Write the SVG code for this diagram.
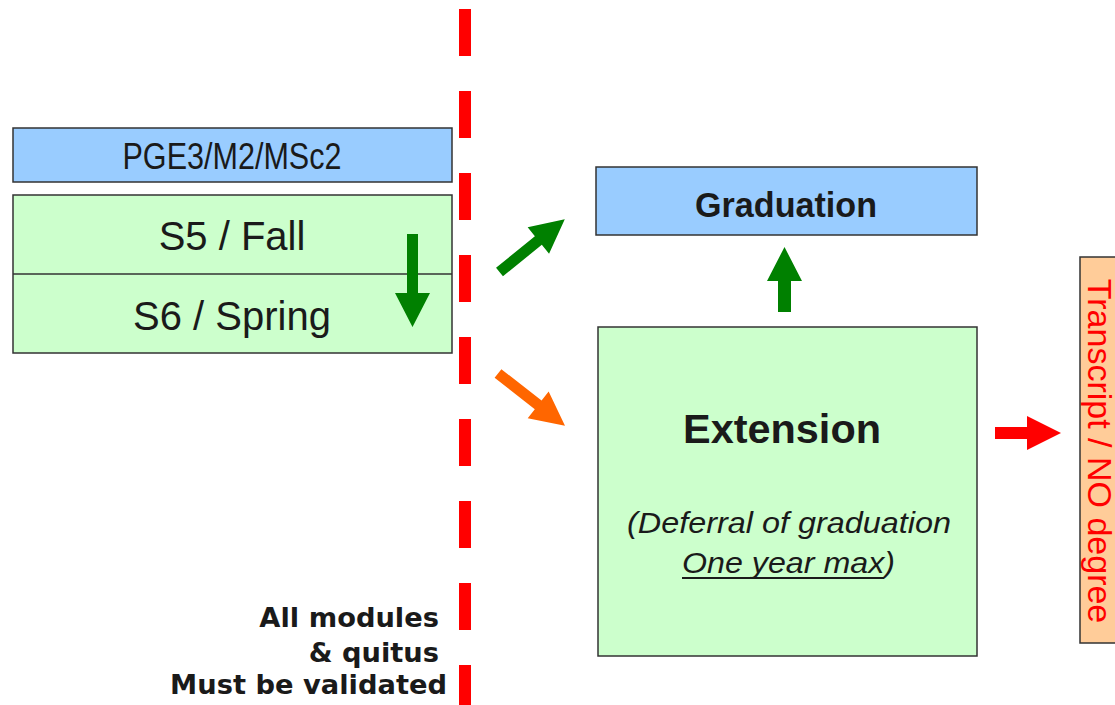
<svg xmlns="http://www.w3.org/2000/svg" width="1115" height="705" viewBox="0 0 1115 705">
<style>
.box{stroke:#333333;stroke-width:1.5}
.t{font-family:"Liberation Sans",Arial,sans-serif;fill:#1a1a1a}
.b{font-weight:bold}
.g{fill:#008000}
.n{font-family:"DejaVu Sans",Verdana,sans-serif;font-weight:bold;font-size:27.3px;fill:#1a1a1a;text-anchor:end}
</style>
<rect width="1115" height="705" fill="#ffffff"/>
<g id="divider">
<line x1="465" y1="9" x2="465" y2="705" stroke="#ff0000" stroke-width="12" stroke-dasharray="47 35"/>
</g>
<g id="pge3">
<rect class="box" x="13" y="128" width="439" height="54" fill="#99ccff"/>
<text class="t" x="232" y="169" font-size="37" text-anchor="middle" textLength="219" lengthAdjust="spacingAndGlyphs">PGE3/M2/MSc2</text>
</g>
<g id="semesters">
<rect class="box" x="13" y="195" width="439" height="158" fill="#ccffcc"/>
<line class="box" x1="13" y1="274" x2="452" y2="274"/>
<text class="t" x="232" y="250" font-size="40" text-anchor="middle">S5 / Fall</text>
<text class="t" x="232" y="330" font-size="40" text-anchor="middle">S6 / Spring</text>
</g>
<g id="graduation">
<rect class="box" x="596" y="167" width="381" height="68" fill="#99ccff"/>
<text class="t b" x="786" y="217" font-size="35" text-anchor="middle" textLength="182" lengthAdjust="spacingAndGlyphs">Graduation</text>
</g>
<g id="extension">
<rect class="box" x="598" y="327" width="379" height="329" fill="#ccffcc"/>
<text class="t b" x="782" y="443" font-size="41" text-anchor="middle" textLength="198" lengthAdjust="spacingAndGlyphs">Extension</text>
<text class="t" x="789" y="533" font-size="30" font-style="italic" text-anchor="middle" textLength="324" lengthAdjust="spacingAndGlyphs">(Deferral of graduation</text>
<text class="t" x="682" y="573" font-size="30" font-style="italic" textLength="213" lengthAdjust="spacingAndGlyphs">One year max)</text>
<line x1="682" y1="578" x2="884" y2="578" stroke="#1a1a1a" stroke-width="2"/>
</g>
<g id="transcript">
<rect class="box" x="1080" y="257" width="45" height="386" fill="#ffcc99"/>
<text transform="translate(1088,451) rotate(90)" x="0" y="0" font-family="'Liberation Sans',Arial,sans-serif" font-size="34" fill="#ff0000" text-anchor="middle">Transcript / NO degree</text>
</g>
<g id="note">
<text class="n" x="439" y="627">All modules</text>
<text class="n" x="439" y="662">&amp; quitus</text>
<text class="n" x="447" y="694">Must be validated</text>
</g>
<g id="connectors">
<polygon class="g" points="407,234 418,234 418,293 430,293 412.5,327 395,293 407,293"/>
<polygon class="g" transform="translate(499.5,272) rotate(-39)" points="0,-5.5 50,-5.5 50,-17 84,0 50,17 50,5.5 0,5.5"/>
<polygon fill="#ff6600" transform="translate(498,373.5) rotate(38)" points="0,-5.5 51,-5.5 51,-17 85,0 51,17 51,5.5 0,5.5"/>
<polygon class="g" points="778,312 791,312 791,281 802,281 784.5,247 767,281 778,281"/>
<polygon fill="#ff0000" points="995,427 1027,427 1027,416 1061,433 1027,450 1027,439 995,439"/>
</g>
</svg>
